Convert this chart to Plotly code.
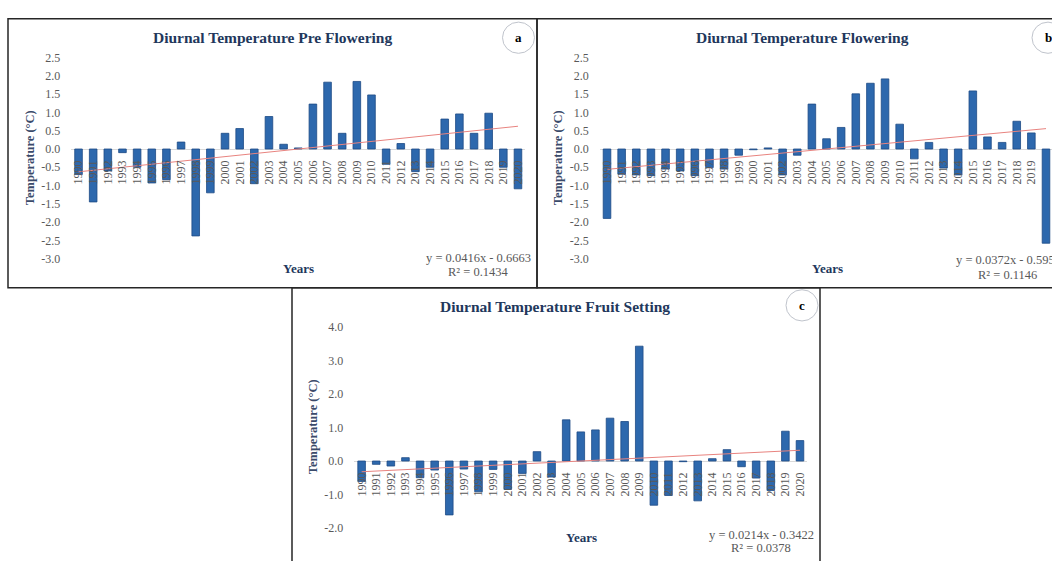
import plotly.graph_objects as go

W, H = 1052, 561

years = list(range(1990, 2021))
year_labels = [str(y) for y in years]

pre_flowering = [-0.70, -1.45, -0.60, -0.10, -0.50, -0.93, -0.84, 0.19, -2.38, -1.20,
                 0.43, 0.56, -0.95, 0.89, 0.13, 0.03, 1.23, 1.83, 0.43, 1.85,
                 1.48, -0.42, 0.15, -0.62, -0.50, 0.82, 0.96, 0.43, 0.98, -0.50, -1.09]
flowering = [-1.90, -0.69, -0.71, -0.73, -0.55, -0.60, -0.73, -0.51, -0.55, -0.17,
             -0.02, 0.03, -0.71, -0.17, 1.23, 0.28, 0.59, 1.51, 1.80, 1.92,
             0.68, -0.27, 0.18, -0.52, -0.71, 1.59, 0.33, 0.18, 0.76, 0.44, -2.58]
fruit_setting = [-0.61, -0.10, -0.15, 0.10, -0.50, -0.27, -1.61, -0.24, -0.92, -0.25,
                 -0.85, -0.37, 0.28, -0.48, 1.23, 0.87, 0.93, 1.28, 1.18, 3.43,
                 -1.32, -1.03, -0.02, -1.19, 0.07, 0.34, -0.17, -0.51, -0.88, 0.89, 0.61]

# Trendline coefficients as printed on the charts (y = slope * n + intercept, n = 1..31)
trend_slope = [0.0416, 0.0372, 0.0214]
trend_intercept = [-0.6663, -0.595, -0.3422]
eq_text = ["y = 0.0416x - 0.6663", "y = 0.0372x - 0.595", "y = 0.0214x - 0.3422"]
r2_text = ["R² = 0.1434", "R² = 0.1146", "R² = 0.0378"]

titles = ["Diurnal Temperature Pre Flowering", "Diurnal Temperature Flowering",
          "Diurnal Temperature Fruit Setting"]
panel_letters = ["a", "b", "c"]

ab_tickvals = [2.5, 2.0, 1.5, 1.0, 0.5, 0.0, -0.5, -1.0, -1.5, -2.0, -2.5, -3.0]
ab_ticktext = ["2.5", "2.0", "1.5", "1.0", "0.5", "0.0", "-0.5", "-1.0", "-1.5", "-2.0", "-2.5", "-3.0"]
c_tickvals = [4.0, 3.0, 2.0, 1.0, 0.0, -1.0, -2.0]
c_ticktext = ["4.0", "3.0", "2.0", "1.0", "0.0", "-1.0", "-2.0"]

series = [pre_flowering, flowering, fruit_setting]

SERIF = "Liberation Serif"
TITLE_C = "#22375c"
GRAY = "#595959"
BAR_C = "#2d68ad"
BAR_LINE = "#1d4a85"
TREND_C = "#e8837f"


def fx(p):
    return p / W


def fy(p):
    return 1 - p / H


# pixel geometry of each panel (screen pixels)
panels = [
    dict(box=(8, 12, 537, 288), xdom=(71.2, 525.3), xr=(1989.5, 2020.5), ydom=(52, 258),
         yr=(-3.0, 2.5), tv=ab_tickvals, tt=ab_ticktext, title=(272, 31), circ=(518.5, 31.5),
         eq=(478, 257), r2=(478, 272), years=(298, 268), ytitle=(30, 155)),
    dict(box=(537, 12, 1070, 288), xdom=(599.7, 1052), xr=(1989.5, 2020.41), ydom=(52, 258),
         yr=(-3.0, 2.5), tv=ab_tickvals, tt=ab_ticktext, title=(802, 31), circ=(1048, 31.5),
         eq=(1005, 259), r2=(1007, 275), years=(827, 268), ytitle=(558, 155)),
    dict(box=(292, 288, 820, 580), xdom=(354.3, 807.3), xr=(1989.5, 2020.5), ydom=(328.3, 534.3),
         yr=(-2.0, 4.0), tv=c_tickvals, tt=c_ticktext, title=(555, 307), circ=(802, 306),
         eq=(761, 542), r2=(761, 555), years=(581, 544), ytitle=(313, 431)),
]

fig = go.Figure()
shapes = []
annotations = []
layout_axes = {}


def label(text, pos, size, color, angle=0):
    return dict(text=text, x=fx(pos[0]), y=fy(pos[1]), xref="paper", yref="paper",
                xanchor="center", yanchor="middle", showarrow=False, textangle=angle,
                font=dict(family=SERIF, size=size, color=color))


for i, (p, vals) in enumerate(zip(panels, series)):
    sfx = "" if i == 0 else str(i + 1)
    xa, ya = "x" + sfx, "y" + sfx
    fig.add_trace(go.Bar(x=years, y=vals, xaxis=xa, yaxis=ya,
                         marker=dict(color=BAR_C, line=dict(color=BAR_LINE, width=0.8)),
                         hoverinfo="x+y"))
    n = list(range(1, len(years) + 1))
    trend = [trend_slope[i] * k + trend_intercept[i] for k in n]
    fig.add_trace(go.Scatter(x=years, y=trend, xaxis=xa, yaxis=ya, mode="lines",
                             line=dict(color=TREND_C, width=1), hoverinfo="skip"))

    yd0, yd1 = fy(p["ydom"][1]), fy(p["ydom"][0])
    r0, r1 = p["yr"]
    zero_pos = yd0 + (0 - r0) / (r1 - r0) * (yd1 - yd0)

    layout_axes["xaxis" + sfx] = dict(
        domain=[max(0, fx(p["xdom"][0])), min(1, fx(p["xdom"][1]))], range=list(p["xr"]),
        anchor="free", position=zero_pos, tickmode="array", tickvals=years,
        ticktext=year_labels, tickangle=-90, showgrid=False, showline=False,
        zeroline=False, ticks="", ticklabelstandoff=8,
        tickfont=dict(family=SERIF, size=12, color=GRAY), fixedrange=True)
    layout_axes["yaxis" + sfx] = dict(
        domain=[yd0, yd1], range=[r0, r1], anchor=xa, tickmode="array",
        tickvals=p["tv"], ticktext=p["tt"], showgrid=False, showline=False,
        zeroline=True, zerolinecolor="#d9d9d9", zerolinewidth=1, ticks="",
        ticklabelstandoff=10, tickfont=dict(family=SERIF, size=12, color=GRAY),
        fixedrange=True)

    bx0, by0, bx1, by1 = p["box"]
    shapes.append(dict(type="rect", xref="paper", yref="paper", x0=fx(bx0), x1=fx(bx1),
                       y0=fy(by1), y1=fy(by0), line=dict(color="#262626", width=1.5),
                       fillcolor="rgba(0,0,0,0)", layer="above"))
    cx, cy = p["circ"]
    shapes.append(dict(type="circle", xref="paper", yref="paper", x0=fx(cx - 16), x1=fx(cx + 16),
                       y0=fy(cy + 16), y1=fy(cy - 16), line=dict(color="#c0c4cc", width=1),
                       fillcolor="white"))
    annotations.append(label("<b>%s</b>" % panel_letters[i], p["circ"], 13, "black"))
    annotations.append(label("<b>%s</b>" % titles[i], p["title"], 15.5, TITLE_C))
    annotations.append(label("<b>Years</b>", p["years"], 13, TITLE_C))
    annotations.append(label("<b>Temperature (°C)</b>", p["ytitle"], 12.5, "#3a4a6a", angle=-90))
    annotations.append(label(eq_text[i], p["eq"], 12.5, GRAY))
    annotations.append(label(r2_text[i], p["r2"], 12.5, GRAY))

fig.update_layout(
    width=W, height=H, margin=dict(l=0, r=0, t=0, b=0, pad=0),
    paper_bgcolor="white", plot_bgcolor="white", showlegend=False,
    bargap=0.48, shapes=shapes, annotations=annotations, **layout_axes)

# remove the default 8px page margin so the 1052x561 figure fills the window exactly
fig.write_html("out.html", config={"displayModeBar": False},
               post_script="document.body.style.margin='0';document.body.style.overflow='hidden';")
